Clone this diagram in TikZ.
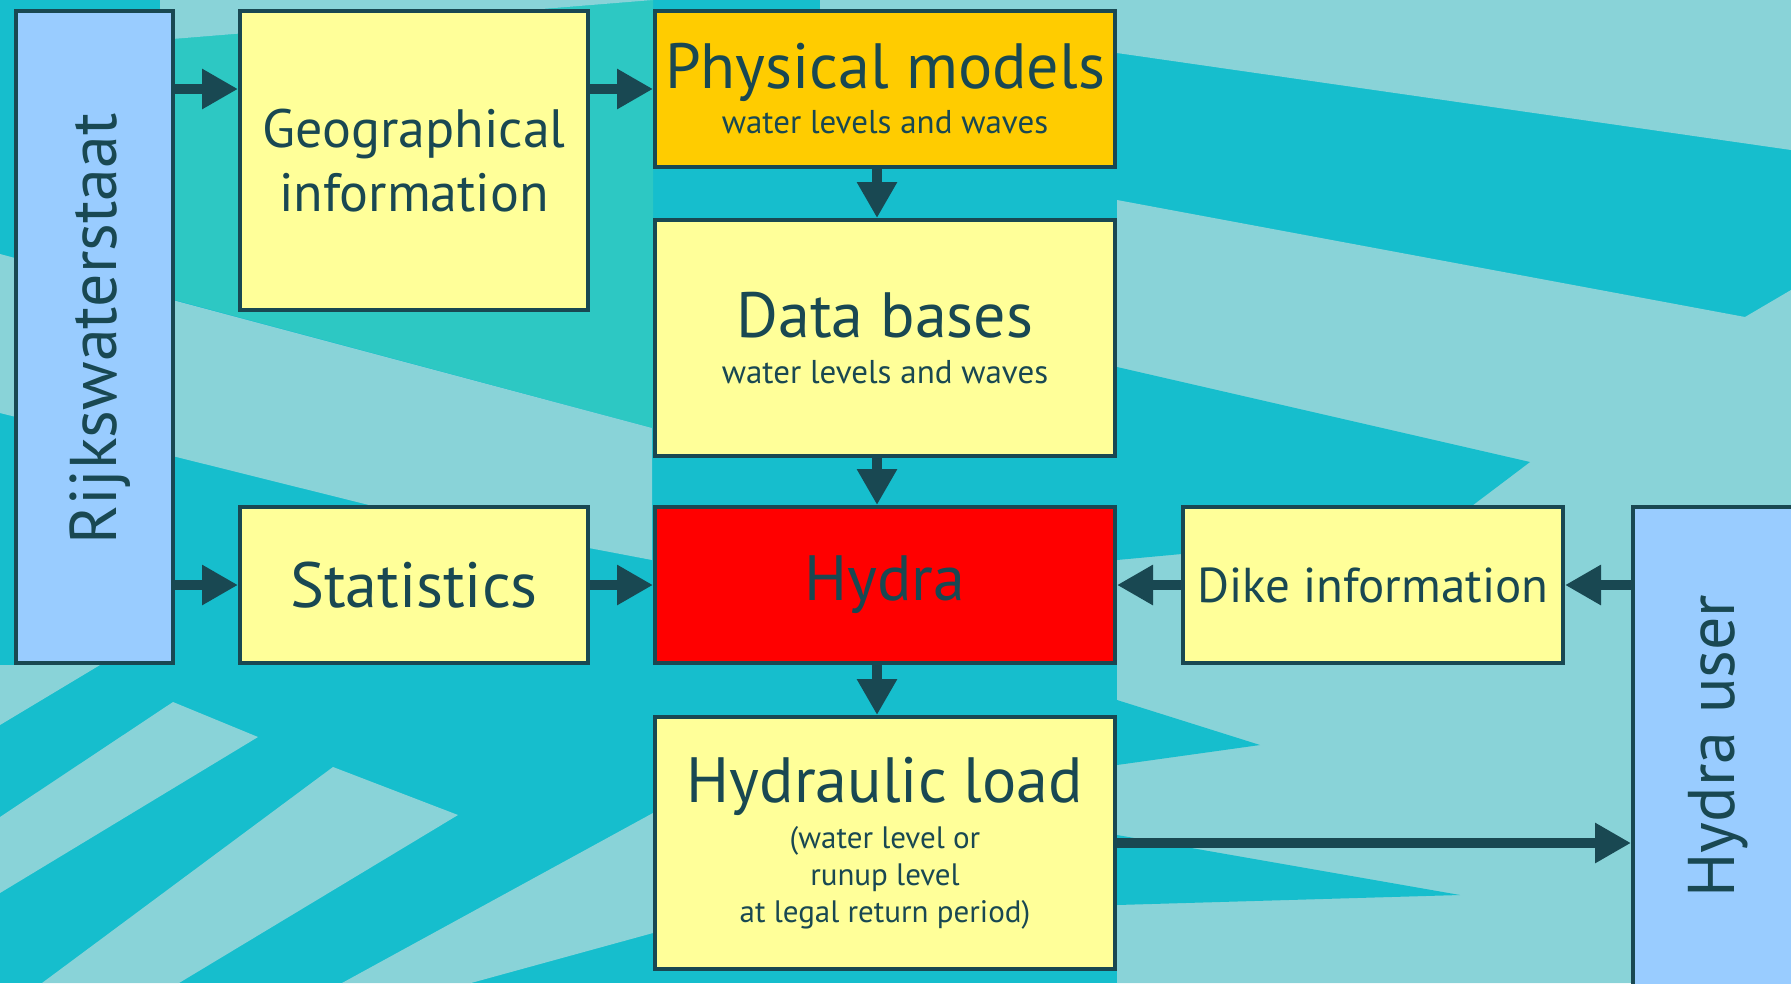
\documentclass[tikz,border=0pt]{standalone}
\usepackage{fontspec}
\setmainfont{PT Sans}
\usetikzlibrary{arrows.meta}
\definecolor{hydracolor0001}{RGB}{25,72,82}
\definecolor{hydracolor0002}{RGB}{153,204,255}
\definecolor{hydracolor0003}{RGB}{255,255,153}
\definecolor{hydracolor0004}{RGB}{255,204,0}
\definecolor{hydracolor0005}{RGB}{255,0,0}
\definecolor{hydracolor0006}{RGB}{22,190,205}
\definecolor{hydracolor0007}{RGB}{150,214,218}
\definecolor{hydracolor0008}{RGB}{45,200,195}

\begin{document}
\begin{tikzpicture}[yscale=-1
,hstyle0/.style={draw=hydracolor0001,line width=4pt,inner sep=0pt,align=center,text=hydracolor0001}
,hstyle1/.style={hstyle0,fill=hydracolor0002}
,hstyle2/.style={hstyle0,fill=hydracolor0003}
,hstyle3/.style={hstyle0,fill=hydracolor0004}
,hstyle4/.style={hstyle0,fill=hydracolor0005}
,hstyle5/.style={draw=hydracolor0001,line width=10pt,-{Triangle[length=36pt,width=38pt]}}
,hstyle6/.style={fill=hydracolor0007,opacity=0.9}
,hstyle7/.style={fill=hydracolor0006}
,hstyle8/.style={text=hydracolor0001,inner sep=0pt,rotate=90,font=\fontsize{66}{70}\selectfont}
]
\useasboundingbox (0pt,0pt) rectangle (1791pt,983pt);
\clip (0pt,0pt) rectangle (1791pt,983pt);
\fill[hstyle7] (0pt,0pt) rectangle (1791pt,983pt);
\fill[hydracolor0008] (160pt,40pt) -- (653pt,0pt) -- (653pt,428pt) -- (160pt,296pt) -- cycle;
\fill[hstyle6] (160pt,0pt) -- (653pt,0pt) -- (160pt,40pt) -- cycle;
\fill[hstyle6] (820pt,0pt) -- (1791pt,0pt) -- (1791pt,150pt) -- (1117pt,53pt) -- (820pt,15pt) -- cycle;
\fill[hstyle6] (1117pt,200pt) -- (1745pt,317pt) -- (1791pt,290pt) -- (1791pt,983pt) -- (1117pt,983pt) -- cycle;
\fill[hstyle7] (1117pt,367pt) -- (1530pt,462pt) -- (1440pt,530pt) -- (1117pt,560pt) -- cycle;
\fill[hstyle7] (1117pt,700pt) -- (1260pt,745pt) -- (1117pt,765pt) -- cycle;
\fill[hstyle7] (1117pt,835pt) -- (1460pt,895pt) -- (1117pt,905pt) -- cycle;
\fill[hstyle6] (0pt,254pt) -- (652pt,428pt) -- (652pt,560pt) -- (389pt,510pt) -- (0pt,413pt) -- cycle;
\fill[hstyle6] (0pt,665pt) -- (100pt,665pt) -- (0pt,725pt) -- cycle;
\fill[hstyle6] (173pt,702pt) -- (258pt,737pt) -- (0pt,893pt) -- (0pt,817pt) -- cycle;
\fill[hstyle6] (333pt,767pt) -- (458pt,815pt) -- (179pt,983pt) -- (42pt,983pt) -- cycle;
\fill[hstyle6] (653pt,813pt) -- (653pt,933pt) -- (471pt,983pt) -- (342pt,983pt) -- cycle;
\node[hstyle1,minimum width=157pt,minimum height=652pt] (rws) at (94.5pt,337pt) {};
\node[hstyle8] (rwstext) at (100pt,329pt) {Rijkswaterstaat};
\node[hstyle2,minimum width=348pt,minimum height=299pt,font=\fontsize{54}{64}\selectfont] (geo) at (414pt,160.5pt) {Geographical\\information};
\node[hstyle3,minimum width=460pt,minimum height=156pt,font=\fontsize{33}{45}\selectfont] (phys) at (885pt,89pt) {{\fontsize{64}{70}\selectfont Physical models}\\water levels and waves};
\node[hstyle2,minimum width=460pt,minimum height=236pt,font=\fontsize{33}{46}\selectfont] (db) at (885pt,338pt) {{\fontsize{64}{70}\selectfont Data bases}\\water levels and waves};
\node[hstyle2,minimum width=348pt,minimum height=156pt,font=\fontsize{64}{70}\selectfont] (stat) at (414pt,585pt) {Statistics};
\node[hstyle4,minimum width=460pt,minimum height=156pt,font=\fontsize{64}{70}\selectfont] (hydra) at (885pt,585pt) {\raisebox{-5pt}{Hydra}};
\node[hstyle2,minimum width=380pt,minimum height=156pt,font=\fontsize{49}{56}\selectfont] (dike) at (1373pt,585pt) {Dike information};
\node[hstyle1,minimum width=177pt,minimum height=493pt] (user) at (1721.5pt,753.5pt) {};
\node[hstyle8] (usertext) at (1718pt,746pt) {Hydra user};
\node[hstyle2,minimum width=460pt,minimum height=252pt,font=\fontsize{31}{37}\selectfont] (hl) at (885pt,843pt) {{\fontsize{64}{70}\selectfont Hydraulic load}\\[9pt](water level or\\runup level\\at legal return period)};
\draw[hstyle5] (rws.east |- phys.west) -- (geo.west |- phys.west);
\draw[hstyle5] (geo.east |- phys.west) -- (phys.west);
\draw[hstyle5] ([xshift=-8pt]phys.south) -- ([xshift=-8pt]db.north);
\draw[hstyle5] ([xshift=-8pt]db.south) -- ([xshift=-8pt]hydra.north);
\draw[hstyle5] (rws.east |- stat.west) -- (stat.west);
\draw[hstyle5] (stat.east) -- (hydra.west);
\draw[hstyle5] (dike.west) -- (hydra.east);
\draw[hstyle5] (user.west |- dike.east) -- (dike.east);
\draw[hstyle5] ([xshift=-8pt]hydra.south) -- ([xshift=-8pt]hl.north);
\draw[hstyle5] (hl.east) -- (user.west |- hl.east);
\end{tikzpicture}
\end{document}
